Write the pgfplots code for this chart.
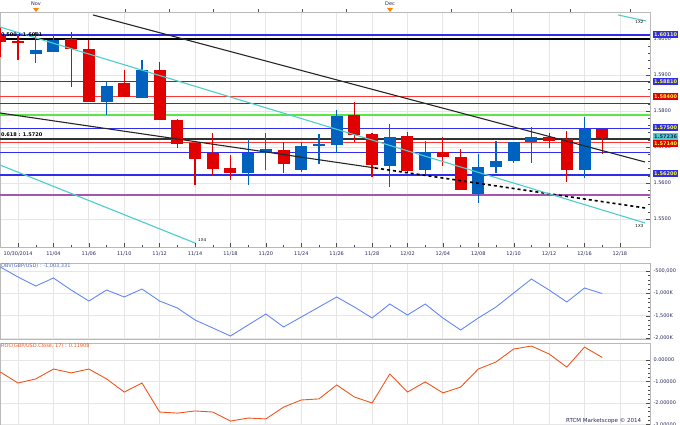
\documentclass[border=0pt]{standalone}
\usepackage{fontspec}
\setmainfont{DejaVu Sans}
\usepackage{pgfplots}
\usepackage{pgfplotstable}
\pgfplotsset{compat=1.18}

% colours
\definecolor{candleRed}{RGB}{225,0,0}
\definecolor{candleBlue}{RGB}{0,98,190}
\definecolor{lvlBlue}{RGB}{45,45,235}
\definecolor{lvlRed}{RGB}{250,55,55}
\definecolor{lvlGreen}{RGB}{90,230,70}
\definecolor{lvlPurple}{RGB}{165,85,175}
\definecolor{lvlCyan}{RGB}{75,205,205}
\definecolor{gridGray}{RGB}{230,230,230}
\definecolor{obvBlue}{RGB}{100,135,245}
\definecolor{rocOrange}{RGB}{240,85,30}
\definecolor{labelInk}{RGB}{40,40,90}
\definecolor{boxYellow}{RGB}{255,255,60}

\newcommand{\chartfont}{\fontsize{5}{6}\selectfont}

% GBP/USD daily candles, x = trading day index
\pgfplotstableread{
x  o       h       l       c
-1 1.60111 1.60333 1.59500 1.59917
0  1.59944 1.60111 1.59417 1.59917
3  1.60000 1.60194 1.58667 1.59722
4  1.59722 1.59972 1.58250 1.58250
6  1.58778 1.59139 1.58389 1.58389
8  1.59139 1.59361 1.57750 1.57750
9  1.57750 1.57778 1.56972 1.57083
10 1.57111 1.57111 1.55944 1.56667
11 1.56833 1.57389 1.56222 1.56389
12 1.56417 1.56778 1.56083 1.56278
15 1.56917 1.57139 1.56278 1.56528
19 1.57889 1.58250 1.57139 1.57333
20 1.57361 1.57389 1.56167 1.56500
22 1.57306 1.57417 1.56306 1.56333
24 1.56861 1.57278 1.56472 1.56722
25 1.56722 1.56944 1.55806 1.55806
30 1.57278 1.57389 1.56972 1.57167
31 1.57222 1.57444 1.56028 1.56361
33 1.57500 1.57500 1.56806 1.57250
}\redcandles

\pgfplotstableread{
x  o       h       l       c
1  1.59583 1.60194 1.59333 1.59694
2  1.59639 1.60111 1.59639 1.59972
5  1.58250 1.58833 1.57889 1.58694
7  1.58361 1.59417 1.58361 1.59139
13 1.56278 1.57222 1.55944 1.56833
14 1.56833 1.57389 1.56361 1.56944
16 1.56361 1.57139 1.56306 1.57028
17 1.57028 1.57361 1.56528 1.57083
18 1.57056 1.58028 1.56833 1.57861
21 1.56472 1.57639 1.55889 1.57278
23 1.56361 1.57167 1.56194 1.56861
26 1.55694 1.56806 1.55444 1.56444
27 1.56444 1.57167 1.56278 1.56611
28 1.56611 1.57139 1.56556 1.57139
29 1.57139 1.57556 1.56556 1.57278
32 1.56361 1.57833 1.56139 1.57500
}\bluecandles

% OBV in thousands
\pgfplotstableread{
x v
-1 -411
0 -634
1 -835
2 -656
3 -924
4 -1170
5 -924
6 -1080
7 -902
8 -1170
9 -1326
10 -1594
11 -1772
12 -1951
13 -1705
14 -1460
15 -1750
16 -1527
17 -1304
18 -1080
19 -1304
20 -1549
21 -1237
22 -1482
23 -1237
24 -1549
25 -1817
26 -1549
27 -1304
28 -991
29 -679
30 -924
31 -1192
32 -879
33 -1003
}\obv

\pgfplotstableread{
x v
-1 -0.56
0 -1.07
1 -0.88
2 -0.42
3 -0.60
4 -0.42
5 -0.88
6 -1.49
7 -1.07
8 -2.42
9 -2.47
10 -2.37
11 -2.42
12 -2.84
13 -2.70
14 -2.74
15 -2.19
16 -1.86
17 -1.81
18 -1.16
19 -1.72
20 -2.00
21 -0.65
22 -1.49
23 -1.02
24 -1.53
25 -1.26
26 -0.42
27 -0.09
28 0.51
29 0.65
30 0.28
31 -0.33
32 0.60
33 0.119
}\roc

\pgfplotsset{
  panel/.style={
    scale only axis, width=650pt, anchor=south west,
    xmin=-1.02, xmax=35.7,
    xtick={0,2,...,34}, minor x tick num=1,
    grid=major, major grid style={gridGray, line width=0.8pt},
    axis line style={gray!55, line width=0.6pt},
    xtick pos=left, ytick pos=right, yticklabel pos=right,
    tick style={gray!60!black, line width=0.4pt},
    major tick length=4pt, minor tick length=2pt,
    minor y tick num=4,
    tick label style={font=\chartfont, text=labelInk},
    /pgf/number format/assume math mode=true,
    clip mode=individual,
  },
  candle wick/.style={draw=none, mark=none, forget plot,
    error bars/.cd, y dir=both, y explicit, error mark=none,
    error bar style={line width=1.2pt, draw=#1, solid}},
  candle body/.style={draw=none, mark=none, forget plot,
    error bars/.cd, y dir=both, y explicit, error mark=none,
    error bar style={line width=12pt, draw=#1, solid}},
}
\newcommand{\level}[3]{\addplot[#1, line width=#2, forget plot] coordinates {(-1.02,#3) (35.7,#3)};}
\tikzset{pricebox/.style={anchor=west, fill=#1, font=\chartfont\bfseries, text=boxYellow,
  inner xsep=1pt, inner ysep=0.8pt, minimum height=7pt}}

\begin{document}
\begin{tikzpicture}
\useasboundingbox (0pt,0pt) rectangle (680pt,425pt);

% ---- price panel
\begin{axis}[panel, at={(0pt,178pt)}, height=235pt,
  ymin=1.54222, ymax=1.6075,
  ytick={1.55,1.56,1.57,1.58,1.59,1.60},
  yticklabels={1.5500,1.5600,1.5700,1.5800,1.5900,1.6000},
  xticklabels={10/30/2014,11/04,11/06,11/10,11/12,11/14,11/18,11/20,11/24,11/26,11/28,12/02,12/04,12/08,12/10,12/12,12/16,12/18},
  xticklabel style={yshift=-1pt},
]
\level{lvlBlue}{1.2pt}{1.6011}
\level{black}{1.2pt}{1.6000}
\level{lvlBlue}{1.2pt}{1.5881}
\level{lvlRed}{1.2pt}{1.5841}
\level{lvlBlue}{1.2pt}{1.5821}
\level{lvlGreen}{1.2pt}{1.5789}
\level{lvlBlue}{1.2pt}{1.5751}
\level{black!80}{1.2pt}{1.5722}
\level{lvlRed}{1.2pt}{1.5713}
\level{lvlBlue}{1.2pt}{1.5684}
\level{lvlBlue}{1.2pt}{1.5622}
\level{lvlPurple}{1.4pt}{1.5567}

\addplot[candle wick=candleRed] table[x=x, y expr=(\thisrow{h}+\thisrow{l})/2, y error expr=(\thisrow{h}-\thisrow{l})/2] {\redcandles};
\addplot[candle body=candleRed] table[x=x, y expr=(\thisrow{o}+\thisrow{c})/2, y error expr=abs(\thisrow{o}-\thisrow{c})/2] {\redcandles};
\addplot[candle wick=candleBlue] table[x=x, y expr=(\thisrow{h}+\thisrow{l})/2, y error expr=(\thisrow{h}-\thisrow{l})/2] {\bluecandles};
\addplot[candle body=candleBlue] table[x=x, y expr=(\thisrow{o}+\thisrow{c})/2, y error expr=abs(\thisrow{o}-\thisrow{c})/2] {\bluecandles};

% trend lines
\addplot[black!85, line width=1.1pt] coordinates {(4.24,1.60667) (35.42,1.56583)};
\addplot[black!85, line width=1.1pt] coordinates {(-1.02,1.57944) (20.17,1.56417)};
\addplot[black, line width=1.6pt, dash pattern=on 3pt off 3pt] coordinates {(20.17,1.56417) (35.42,1.55306)};
\addplot[lvlCyan, line width=1.1pt] coordinates {(-1.02,1.60333) (35.42,1.54889)};
\addplot[lvlCyan, line width=1.1pt] coordinates {(-1.02,1.56500) (10.0,1.54333)};
\addplot[lvlCyan, line width=1.1pt] coordinates {(33.9,1.60667) (35.48,1.60500)};

\node[anchor=west, font=\chartfont\bfseries, inner sep=0.5pt] at (axis cs:-1.0,1.6011) {0.500 : 1.6001};
\node[anchor=west, font=\chartfont\bfseries, inner sep=0.5pt] at (axis cs:-1.0,1.5733) {0.618 : 1.5720};
\node[font=\fontsize{4}{4}\selectfont] at (axis cs:35.1,1.6047) {1X2};
\node[font=\fontsize{4}{4}\selectfont] at (axis cs:35.1,1.5481) {1X3};
\node[font=\fontsize{4}{4}\selectfont] at (axis cs:10.4,1.5442) {1X4};
\end{axis}

% ---- OBV panel
\begin{axis}[panel, at={(0pt,86pt)}, height=76pt,
  ymin=-2018, ymax=-321,
  ytick={-2000,-1500,-1000,-500},
  yticklabels={{-2,000K},{-1,500K},{-1,000K},{-500,000}},
  xticklabels={}, xtick style={draw=none}]
\addplot[obvBlue, line width=0.9pt] table[x=x, y=v] {\obv};
\node[anchor=north west, font=\chartfont, text=obvBlue!75!black, inner sep=1pt] at (rel axis cs:0,1) {OBV(GBP/USD) : -1,003,331};
\end{axis}

% ---- ROC panel
\begin{axis}[panel, at={(0pt,0pt)}, height=82pt,
  ymin=-3.023, ymax=0.791,
  ytick={-3,-2,-1,0},
  yticklabels={-3.00000,-2.00000,-1.00000,0.00000},
  xticklabels={}, xtick style={draw=none}]
\addplot[rocOrange, line width=0.9pt] table[x=x, y=v] {\roc};
\node[anchor=north west, font=\chartfont, text=rocOrange, inner sep=1pt] at (rel axis cs:0,1) {ROC(GBP/USD.Close, 17) : 0.11908};
\node[anchor=south east, font=\fontsize{5.5}{6}\selectfont, text=labelInk, inner sep=1pt] at (rel axis cs:0.988,0) {RTCM Marketscope © 2014};
\end{axis}

% top month ruler
\foreach \x in {125,169,213,258,302,346,451,511,570,630}
  \draw[gray!70!black, line width=0.4pt] (\x pt,413pt) -- (\x pt,416pt);
\fill[orange] (33pt,417pt) -- (39pt,417pt) -- (36pt,413pt) -- cycle;
\fill[orange] (387pt,417pt) -- (393pt,417pt) -- (390pt,413pt) -- cycle;
\node[font=\chartfont, text=labelInk] at (36pt,421pt) {Nov};
\node[font=\chartfont, text=labelInk] at (390pt,421pt) {Dec};

% price flags on the right
\node[pricebox=lvlBlue] at (653pt,390pt) {1.60110};
\node[pricebox=lvlBlue] at (653pt,343pt) {1.58810};
\node[pricebox=candleRed] at (653pt,328pt) {1.58400};
\node[pricebox=lvlBlue] at (653pt,297pt) {1.57500};
\node[pricebox=candleRed] at (653pt,281pt) {1.57140};
\node[pricebox=lvlCyan, text=labelInk] at (653pt,288pt) {1.57236};
\node[pricebox=lvlBlue] at (653pt,251pt) {1.56200};
\end{tikzpicture}
\end{document}
